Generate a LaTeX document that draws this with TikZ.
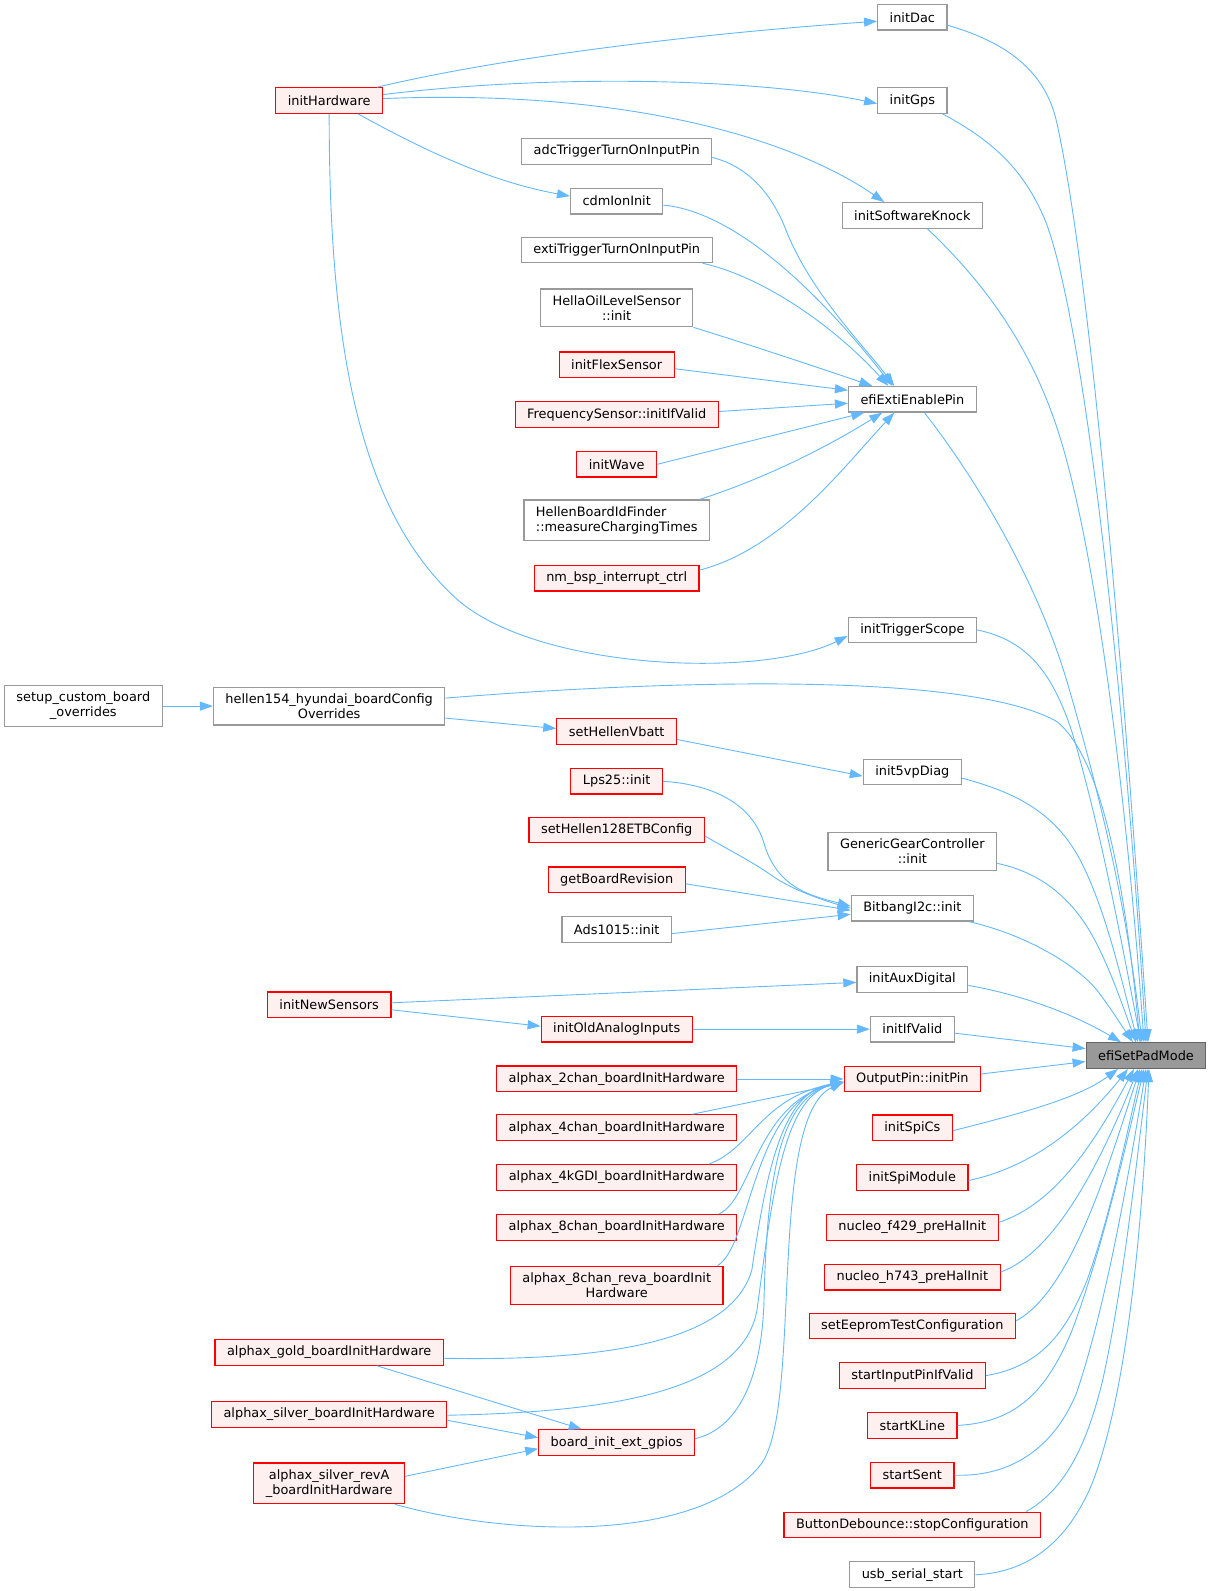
\documentclass[tikz,border=0pt]{standalone}
\usepackage{fontspec}
\setmainfont{DejaVu Sans}
\usetikzlibrary{arrows.meta}
\definecolor{callblue}{HTML}{63B8FF}
\definecolor{boxgrey}{HTML}{999999}
\definecolor{rootgrey}{HTML}{999999}
\definecolor{rootedge}{HTML}{666666}
\definecolor{redfill}{HTML}{FFF0F0}
\tikzset{
    fn/.style={draw=boxgrey, fill=white, line width=1.2pt, align=center,
        minimum height=25.5pt, inner xsep=12pt, inner ysep=6.5pt,
        font=\fontsize{12.9}{15}\selectfont}, % plain function box
    fnred/.style={fn, draw=red, fill=redfill}, % documented function, red frame
    fnroot/.style={fn, draw=rootedge, fill=rootgrey}, % the function of the graph
    call/.style={draw=callblue, line width=0.9pt, -{Triangle[length=13pt,width=9pt]}}, % call edge
}
\begin{document}
\begin{tikzpicture}[x=1.016pt,y=-1.016pt]
  \useasboundingbox (0,0) rectangle (1192,1566);

  % right column
  \node[fnroot] (pad) at (1128,1039) {efiSetPadMode};

  % callers of efiSetPadMode
  \node[fn]    (dac)      at (898,17)   {initDac};
  \node[fn]    (gps)      at (898,99)   {initGps};
  \node[fn]    (knock)    at (898,212)  {initSoftwareKnock};
  \node[fn]    (exti)     at (898,393)  {efiExtiEnablePin};
  \node[fn]    (trig)     at (898,620)  {initTriggerScope};
  \node[fn]    (diag)     at (898,760)  {init5vpDiag};
  \node[fn]    (gear)     at (898,838)  {GenericGearController\\::init};
  \node[fn]    (i2c)      at (898,894)  {BitbangI2c::init};
  \node[fn]    (aux)      at (898,964)  {initAuxDigital};
  \node[fn]    (ifvalid)  at (898,1013) {initIfValid};
  \node[fnred] (opin)     at (898,1062) {OutputPin::initPin};
  \node[fnred] (spics)    at (898,1110) {initSpiCs};
  \node[fnred] (spimod)   at (898,1159) {initSpiModule};
  \node[fnred] (f429)     at (898,1208) {nucleo\_f429\_preHalInit};
  \node[fnred] (h743)     at (898,1257) {nucleo\_h743\_preHalInit};
  \node[fnred] (eeprom)   at (898,1305) {setEepromTestConfiguration};
  \node[fnred] (inpin)    at (898,1354) {startInputPinIfValid};
  \node[fnred] (kline)    at (898,1403) {startKLine};
  \node[fnred] (sent)     at (898,1452) {startSent};
  \node[fnred] (debounce) at (898,1501) {ButtonDebounce::stopConfiguration};
  \node[fn]    (usb)      at (898,1550) {usb\_serial\_start};

  % second column
  \node[fn]    (adc)      at (607,149)  {adcTriggerTurnOnInputPin};
  \node[fn]    (cdm)      at (607,198)  {cdmIonInit};
  \node[fn]    (extitrig) at (607,246)  {extiTriggerTurnOnInputPin};
  \node[fn]    (hella)    at (607,303)  {HellaOilLevelSensor\\::init};
  \node[fnred] (flex)     at (607,359)  {initFlexSensor};
  \node[fnred] (freq)     at (607,408)  {FrequencySensor::initIfValid};
  \node[fnred] (wave)     at (607,457)  {initWave};
  \node[fn,align=left] (hellenid) at (607,512) {HellenBoardIdFinder\\::measureChargingTimes};
  \node[fnred] (nmbsp)    at (607,569)  {nm\_bsp\_interrupt\_ctrl};
  \node[fnred] (vbatt)    at (607,720)  {setHellenVbatt};
  \node[fnred] (lps)      at (607,769)  {Lps25::init};
  \node[fnred] (etb)      at (607,817)  {setHellen128ETBConfig};
  \node[fnred] (rev)      at (607,866)  {getBoardRevision};
  \node[fn]    (ads)      at (607,915)  {Ads1015::init};
  \node[fnred] (oldai)    at (607,1013) {initOldAnalogInputs};
  \node[fnred] (ax2)      at (607,1062) {alphax\_2chan\_boardInitHardware};
  \node[fnred] (ax4)      at (607,1110) {alphax\_4chan\_boardInitHardware};
  \node[fnred] (axgdi)    at (607,1159) {alphax\_4kGDI\_boardInitHardware};
  \node[fnred] (ax8)      at (607,1208) {alphax\_8chan\_boardInitHardware};
  \node[fnred] (ax8a)     at (607,1265) {alphax\_8chan\_reva\_boardInit\\Hardware};
  \node[fnred] (gpios)    at (607,1420) {board\_init\_ext\_gpios};

  % first column
  \node[fnred] (hw)       at (324,99)   {initHardware};
  \node[fn]    (h154)     at (324,695)  {hellen154\_hyundai\_boardConfig\\Overrides};
  \node[fnred] (newsens)  at (324,989)  {initNewSensors};
  \node[fnred] (axgold)   at (324,1331) {alphax\_gold\_boardInitHardware};
  \node[fnred] (axsilver) at (324,1392) {alphax\_silver\_boardInitHardware};
  \node[fnred] (axrevA)   at (324,1460) {alphax\_silver\_revA\\\_boardInitHardware};
  \node[fn]    (setup)    at (82,695)   {setup\_custom\_board\\\_overrides};

  % edges into efiSetPadMode, from above
  \draw[call] ([yshift=-8pt]dac.east) .. controls (985,40) and (1028,66) .. (1040,120)
    .. controls (1080,300) and (1115,800) .. ([xshift=2pt]pad.north);
  \draw[call] ([xshift=-5pt]gps.south east) .. controls (980,140) and (1010,170) .. (1030,220)
    .. controls (1070,330) and (1108,700) .. (pad.north);
  \draw[call] ([xshift=15pt]knock.south) .. controls (960,270) and (1010,330) .. (1040,420)
    .. controls (1080,540) and (1110,800) .. ([xshift=-2pt]pad.north);
  \draw[call] ([xshift=12pt]exti.south) .. controls (960,470) and (1020,570) .. (1050,670)
    .. controls (1085,790) and (1110,900) .. ([xshift=-4pt]pad.north);
  \draw[call] (trig.east) .. controls (1010,630) and (1035,660) .. (1055,720)
    .. controls (1085,820) and (1108,950) .. ([xshift=-5pt]pad.north);
  \draw[call] ([yshift=8pt]h154.east) .. controls (650,670) and (950,660) .. (1040,710)
    .. controls (1090,750) and (1110,900) .. ([xshift=-6pt]pad.north);
  \draw[call] ([yshift=-6pt]diag.east) .. controls (1000,780) and (1040,800) .. (1065,850)
    .. controls (1090,900) and (1105,970) .. ([xshift=-8pt]pad.north);
  \draw[call] ([yshift=-12pt]gear.east) .. controls (1030,860) and (1060,890) .. (1080,930)
    .. controls (1095,960) and (1105,990) .. ([xshift=-10pt]pad.north);
  \draw[call] ([xshift=-5pt]i2c.south east) .. controls (1010,920) and (1060,950) .. (1080,975)
    .. controls (1093,992) and (1103,1008) .. ([xshift=-13pt]pad.north);
  \draw[call] ([yshift=-6pt]aux.east) .. controls (1010,980) and (1060,1000) .. ([xshift=-25pt]pad.north);
  \draw[call] ([yshift=-4pt]ifvalid.east) -- ([yshift=7pt]pad.west);
  \draw[call] ([yshift=5pt]opin.east) -- ([yshift=-6pt]pad.west);

  % edges into efiSetPadMode, from below
  \draw[call] ([yshift=-3pt]spics.east) .. controls (1000,1097) and (1060,1082) .. ([xshift=-28pt]pad.south);
  \draw[call] ([yshift=-3pt]spimod.east) .. controls (1010,1150) and (1060,1115) .. ([xshift=-18pt]pad.south);
  \draw[call] ([yshift=5pt]f429.east) .. controls (1040,1185) and (1080,1120) .. ([xshift=-12pt]pad.south);
  \draw[call] ([yshift=5pt]h743.east) .. controls (1040,1232) and (1085,1140) .. ([xshift=-8pt]pad.south);
  \draw[call] ([yshift=5pt]eeprom.east) .. controls (1055,1270) and (1090,1150) .. ([xshift=-6pt]pad.south);
  \draw[call] (inpin.east) .. controls (1025,1345) and (1050,1310) .. (1070,1260)
    .. controls (1095,1190) and (1110,1110) .. ([xshift=-4pt]pad.south);
  \draw[call] (kline.east) .. controls (1000,1400) and (1030,1370) .. (1055,1310)
    .. controls (1085,1230) and (1110,1120) .. ([xshift=-2pt]pad.south);
  \draw[call] (sent.east) .. controls (1000,1454) and (1040,1420) .. (1060,1370)
    .. controls (1090,1280) and (1112,1150) .. (pad.south);
  \draw[call] ([xshift=-15pt]debounce.north east) .. controls (1050,1465) and (1070,1420) .. (1085,1360)
    .. controls (1105,1270) and (1118,1150) .. ([xshift=2pt]pad.south);
  \draw[call] (usb.east) .. controls (1010,1548) and (1050,1520) .. (1075,1460)
    .. controls (1110,1370) and (1125,1200) .. ([xshift=3pt]pad.south);

  % initHardware
  \draw[call] ([xshift=-6pt]hw.north east) .. controls (500,55) and (700,32) .. ([yshift=-4pt]dac.west);
  \draw[call] ([yshift=6pt]hw.east) .. controls (550,72) and (750,78) .. ([yshift=-3pt]gps.west);
  \draw[call] ([yshift=2pt]hw.east) .. controls (600,88) and (770,130) .. ([xshift=-28pt]knock.north);
  \draw[call] ([xshift=-25pt]hw.south east) .. controls (430,155) and (490,180) .. ([yshift=5pt]cdm.west);
  \draw[call] (hw.south) .. controls (324,330) and (350,500) .. (450,590)
    .. controls (530,660) and (750,668) .. ([yshift=-6pt]trig.west);

  % efiExtiEnablePin
  \draw[call] ([yshift=-6pt]adc.east) .. controls (740,165) and (762,195) .. (775,230)
    .. controls (800,290) and (850,340) .. ([xshift=-18pt]exti.north);
  \draw[call] ([yshift=-4pt]cdm.east) .. controls (720,208) and (800,280) .. ([xshift=-20pt]exti.north);
  \draw[call] ([xshift=-10pt]extitrig.south east) .. controls (750,272) and (820,320) .. ([xshift=-24pt]exti.north);
  \draw[call] (hella.south east) .. controls (740,340) and (800,360) .. ([xshift=-40pt]exti.north);
  \draw[call] ([yshift=-4pt]flex.east) -- ([yshift=9pt]exti.west);
  \draw[call] ([yshift=3pt]freq.east) -- ([yshift=-4pt]exti.west);
  \draw[call] (wave.east) -- ([xshift=-48pt]exti.south);
  \draw[call] ([xshift=-10pt]hellenid.north east) .. controls (770,465) and (830,430) .. ([xshift=-30pt]exti.south);
  \draw[call] ([yshift=8pt]nmbsp.east) .. controls (770,540) and (830,460) .. ([xshift=-18pt]exti.south);

  % BitbangI2c::init
  \draw[call] (lps.east) .. controls (700,772) and (740,790) .. (752,830)
    .. controls (765,875) and (800,882) .. ([yshift=2pt]i2c.west);
  \draw[call] ([yshift=-6pt]etb.east) .. controls (720,838) and (740,848) .. (760,862)
    .. controls (780,876) and (810,886) .. (i2c.west);
  \draw[call] ([yshift=-4pt]rev.east) -- ([yshift=-2pt]i2c.west);
  \draw[call] ([yshift=-4pt]ads.east) -- ([yshift=-6pt]i2c.west);

  % board config chain
  \draw[call] (setup.east) -- (h154.west);
  \draw[call] ([yshift=-12pt]h154.east) -- ([yshift=3pt]vbatt.west);
  \draw[call] ([yshift=-8pt]vbatt.east) -- ([yshift=-4pt]diag.west);

  % sensors
  \draw[call] ([yshift=2pt]newsens.east) -- ([yshift=-3pt]aux.west);
  \draw[call] ([yshift=-5pt]newsens.east) -- ([yshift=3pt]oldai.west);
  \draw[call] (oldai.east) -- (ifvalid.west);

  % OutputPin::initPin
  \draw[call] (ax2.east) -- (opin.west);
  \draw[call] ([xshift=-45pt]ax4.north east) -- ([yshift=-4pt]opin.west);
  \draw[call] ([xshift=-28pt]axgdi.north east) .. controls (740,1130) and (750,1080) .. ([yshift=-3pt]opin.west);
  \draw[call] ([xshift=-18pt]ax8.north east) .. controls (740,1180) and (745,1085) .. ([yshift=-3pt]opin.west);
  \draw[call] ([xshift=-6pt]ax8a.north east) .. controls (740,1225) and (740,1085) .. ([yshift=-3pt]opin.west);
  \draw[call] ([yshift=-6pt]axgold.east) .. controls (600,1340) and (720,1320) .. (740,1250)
    .. controls (755,1150) and (770,1075) .. ([yshift=-3pt]opin.west);
  \draw[call] ([yshift=-1pt]axsilver.east) .. controls (600,1390) and (730,1370) .. (745,1290)
    .. controls (760,1180) and (770,1080) .. ([yshift=-3pt]opin.west);
  \draw[call] ([yshift=4pt]gpios.east) .. controls (730,1405) and (750,1350) .. (752,1280)
    .. controls (755,1150) and (770,1080) .. ([yshift=-3pt]opin.west);
  \draw[call] ([xshift=-10pt]axrevA.south east) .. controls (500,1512) and (690,1520) .. (750,1440)
    .. controls (790,1380) and (755,1100) .. ([yshift=-3pt]opin.west);

  % board_init_ext_gpios
  \draw[call] ([xshift=-67pt]axgold.south east) -- ([xshift=-35pt]gpios.north);
  \draw[call] ([yshift=-6pt]axsilver.east) -- ([yshift=5pt]gpios.west);
  \draw[call] ([yshift=7pt]axrevA.east) -- ([yshift=-6pt]gpios.west);
\end{tikzpicture}
\end{document}
